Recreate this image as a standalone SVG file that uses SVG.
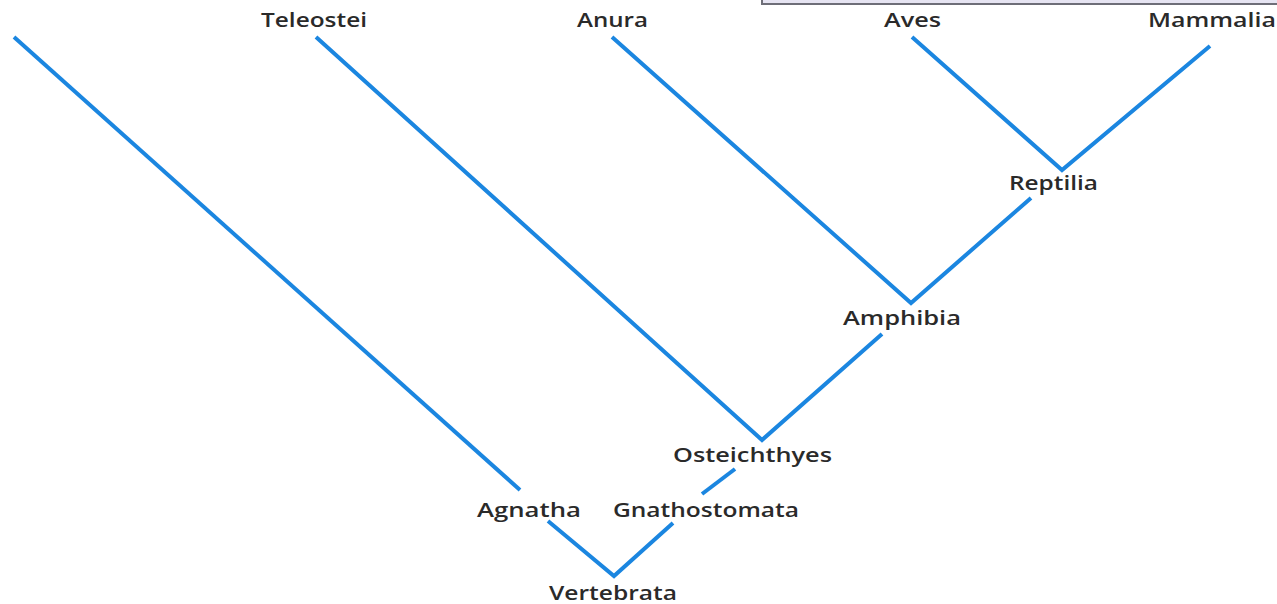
<svg xmlns="http://www.w3.org/2000/svg" width="1277" height="604" viewBox="0 0 1277 604">
<style>
.l{stroke:#1b86e0;stroke-width:4;fill:none;stroke-linecap:butt}
text{font-family:"Open Sans","Liberation Sans",sans-serif;font-size:19px;fill:#2a2a2a;font-weight:600}
</style>
<rect x="762" y="-10" width="530" height="14" fill="#e6e4f2" stroke="#6e6e78" stroke-width="2"/>
<g id="connectors">
<path class="l" d="M14,37 L520,490"/>
<path class="l" d="M548,521 L614,576 L673,523"/>
<path class="l" d="M702,494 L735,469"/>
<path class="l" d="M316,37 L762,440 L882,334"/>
<path class="l" d="M612,37 L911,303 L1031,198"/>
<path class="l" d="M912,37 L1062,170 L1210,46"/>
</g>
<g id="teleostei"><text x="261" y="27" textLength="106" lengthAdjust="spacingAndGlyphs">Teleostei</text></g>
<g id="anura"><text x="577" y="27" textLength="71" lengthAdjust="spacingAndGlyphs">Anura</text></g>
<g id="aves"><text x="884" y="27" textLength="57" lengthAdjust="spacingAndGlyphs">Aves</text></g>
<g id="mammalia"><text x="1148" y="27" textLength="128" lengthAdjust="spacingAndGlyphs">Mammalia</text></g>
<g id="reptilia"><text x="1009" y="190" textLength="89" lengthAdjust="spacingAndGlyphs">Reptilia</text></g>
<g id="amphibia"><text x="843" y="325" textLength="118" lengthAdjust="spacingAndGlyphs">Amphibia</text></g>
<g id="osteichthyes"><text x="673" y="462" textLength="159" lengthAdjust="spacingAndGlyphs">Osteichthyes</text></g>
<g id="agnatha"><text x="477" y="517" textLength="104" lengthAdjust="spacingAndGlyphs">Agnatha</text></g>
<g id="gnathostomata"><text x="613" y="517" textLength="186" lengthAdjust="spacingAndGlyphs">Gnathostomata</text></g>
<g id="vertebrata"><text x="549" y="600" textLength="128" lengthAdjust="spacingAndGlyphs">Vertebrata</text></g>
</svg>
